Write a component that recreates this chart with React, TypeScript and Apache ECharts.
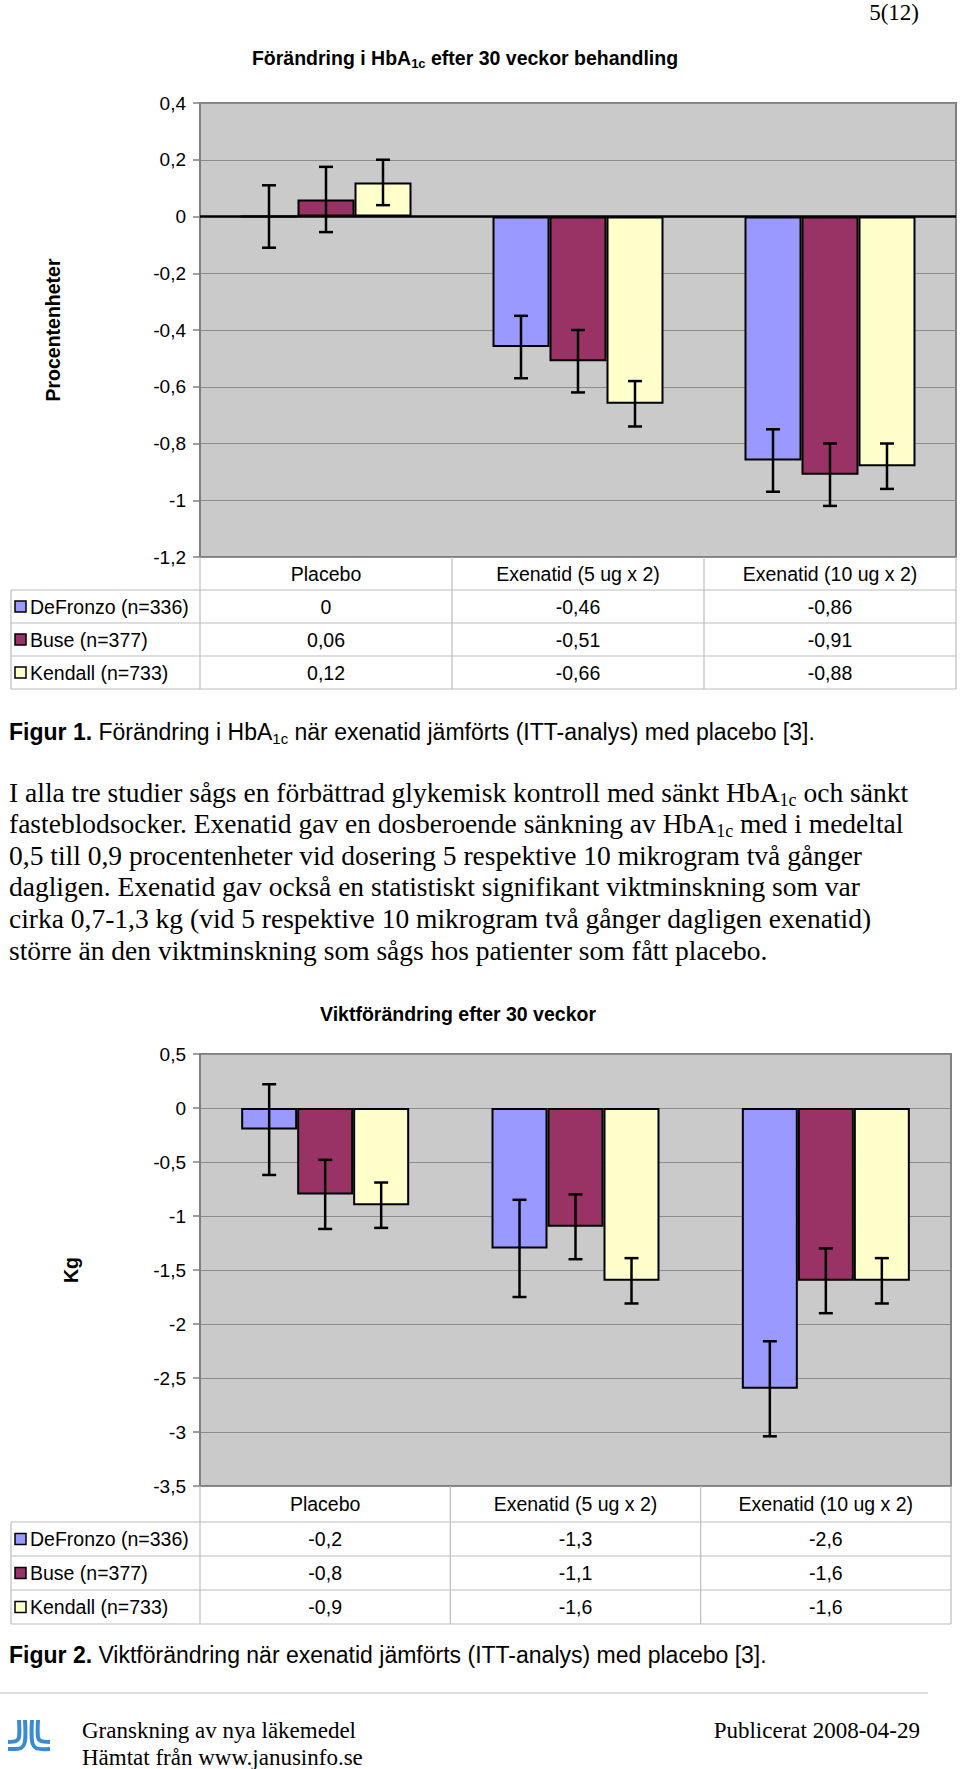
import React, { useEffect, useRef } from 'react';
import * as echarts from 'echarts';

// ---------- data ----------
const categories = ['Placebo', 'Exenatid (5 ug x 2)', 'Exenatid (10 ug x 2)'];
const seriesNames = ['DeFronzo (n=336)', 'Buse (n=377)', 'Kendall (n=733)'];
const seriesColors = ['#9999FF', '#993366', '#FFFFCC'];

const hba1cDeFronzo = [0, -0.46, -0.86];
const hba1cBuse = [0.06, -0.51, -0.91];
const hba1cKendall = [0.12, -0.66, -0.88];
const hba1cErrDeFronzo = [0.11, 0.11, 0.11];
const hba1cErrBuse = [0.115, 0.11, 0.11];
const hba1cErrKendall = [0.08, 0.08, 0.08];

const weightDeFronzo = [-0.2, -1.3, -2.6];
const weightBuse = [-0.8, -1.1, -1.6];
const weightKendall = [-0.9, -1.6, -1.6];
const weightErrDeFronzo = [0.42, 0.45, 0.44];
const weightErrBuse = [0.32, 0.3, 0.3];
const weightErrKendall = [0.21, 0.21, 0.21];

const hba1cAxis = { min: -1.2, max: 0.4, interval: 0.2 };
const weightAxis = { min: -3.5, max: 0.5, interval: 0.5 };

const pageNumber = '5(12)';
const title1 = 'Förändring i HbA{sub|1c} efter 30 veckor behandling';
const title2 = 'Viktförändring efter 30 veckor';
const yName1 = 'Procentenheter';
const yName2 = 'Kg';
const caption1 = '{b|Figur 1.} Förändring i HbA{sub|1c} när exenatid jämförts (ITT-analys) med placebo [3].';
const caption2 = '{b|Figur 2.} Viktförändring när exenatid jämförts (ITT-analys) med placebo [3].';
const paragraphLines = [
  'I alla tre studier sågs en förbättrad glykemisk kontroll med sänkt HbA{sub|1c} och sänkt',
  'fasteblodsocker. Exenatid gav en dosberoende sänkning av HbA{sub|1c} med i medeltal',
  '0,5 till 0,9 procentenheter vid dosering 5 respektive 10 mikrogram två gånger',
  'dagligen. Exenatid gav också en statistiskt signifikant viktminskning som var',
  'cirka 0,7-1,3 kg (vid 5 respektive 10 mikrogram två gånger dagligen exenatid)',
  'större än den viktminskning som sågs hos patienter som fått placebo.',
];
const footerLeft = ['Granskning av nya läkemedel', 'Hämtat från www.janusinfo.se'];
const footerRight = 'Publicerat 2008-04-29';

// ---------- style constants ----------
const SANS = '"Liberation Sans", Arial, Helvetica, sans-serif';
const SERIF = '"Liberation Serif", "Times New Roman", Times, serif';
const W = 960;
const H = 1769;
const TABLE_FONT = 19.5;

const fmt = (v: number) => {
  let r = Math.round(v * 100) / 100;
  if (Object.is(r, -0)) r = 0;
  return String(r).replace('.', ',');
};

function richText(
  x: number, y: number, text: string, size: number, family: string,
  weight: string, subSize: number, align = 'left'
) {
  const lh = Math.round(size * 1.2);
  return {
    type: 'text', x, y, silent: true, z: 50,
    style: {
      text, fontSize: size, fontFamily: family, fontWeight: weight, fill: '#000',
      lineHeight: lh, align, verticalAlign: 'middle',
      rich: {
        b: { fontSize: size, fontFamily: family, fontWeight: 'bold', lineHeight: lh, fill: '#000' },
        sub: { fontSize: subSize, fontFamily: family, fontWeight: weight, lineHeight: subSize, verticalAlign: 'bottom', fill: '#000' },
      },
    },
  };
}

function barSeries(name: string, data: number[], idx: number, axis: number, barWidth: number, extra: any = {}) {
  return {
    type: 'bar', name, data, xAxisIndex: axis, yAxisIndex: axis,
    barWidth, barGap: '0%',
    itemStyle: { color: seriesColors[idx], borderColor: '#000', borderWidth: 2 },
    emphasis: { disabled: true }, silent: true, z: 3,
    ...extra,
  };
}

function errSeries(vals: number[], errs: number[], offset: number, axis: number, barWidth: number) {
  return {
    type: 'custom', xAxisIndex: axis, yAxisIndex: axis, silent: true, z: 10,
    data: vals.map((v, i) => [i, v - errs[i], v + errs[i]]),
    encode: { x: 0, y: [1, 2] },
    renderItem: (_p: any, api: any) => {
      const lo = api.coord([api.value(0), api.value(1)]);
      const hi = api.coord([api.value(0), api.value(2)]);
      const x = lo[0] + offset * barWidth;
      const cap = 7;
      const style = { stroke: '#000', lineWidth: 2.5 };
      return {
        type: 'group',
        children: [
          { type: 'line', shape: { x1: x, y1: hi[1], x2: x, y2: lo[1] }, style },
          { type: 'line', shape: { x1: x - cap, y1: hi[1], x2: x + cap, y2: hi[1] }, style },
          { type: 'line', shape: { x1: x - cap, y1: lo[1], x2: x + cap, y2: lo[1] }, style },
        ],
      };
    },
  };
}

function valueAxis(grid: number, ax: { min: number; max: number; interval: number }, name: string, nameGap: number) {
  return {
    type: 'value', gridIndex: grid, min: ax.min, max: ax.max, interval: ax.interval,
    axisLine: { show: true, lineStyle: { color: '#808080', width: 1.5 } },
    axisTick: { show: true, length: 7, lineStyle: { color: '#808080', width: 1.5 } },
    axisLabel: { fontSize: 19, fontFamily: SANS, color: '#000', margin: 14, formatter: fmt },
    splitLine: { show: true, lineStyle: { color: '#8c8c8c', width: 1.2 } },
    name, nameLocation: 'middle', nameGap, nameRotate: 90,
    nameTextStyle: { fontSize: 19.5, fontWeight: 'bold', fontFamily: SANS, color: '#000' },
  };
}

function catAxis(grid: number, margin: number) {
  return {
    type: 'category', gridIndex: grid, data: categories,
    axisLine: { show: false, onZero: false },
    axisTick: { show: false },
    axisLabel: { fontSize: TABLE_FONT, fontFamily: SANS, color: '#000', margin, interval: 0 },
    splitLine: { show: false },
  };
}

function tableGraphics(
  chart: any, axis: number, plotBottom: number, headerH: number, rowH: number,
  values: number[][]
) {
  const els: any[] = [];
  const cx = categories.map((_, i) => chart.convertToPixel({ xAxisIndex: axis }, i) as number);
  const band = cx[1] - cx[0];
  const bounds = [cx[0] - band / 2, cx[0] + band / 2, cx[1] + band / 2, cx[2] + band / 2];
  const leftX = 11;
  const rightX = bounds[3];
  const top = plotBottom;
  const rowTop = top + headerH;
  const bottom = rowTop + rowH * 3;
  const ls = { stroke: '#bdbdbd', lineWidth: 1.2 };
  for (let r = 0; r <= 3; r++) {
    const y = rowTop + r * rowH;
    els.push({ type: 'line', silent: true, z: 5, shape: { x1: leftX, y1: y, x2: rightX, y2: y }, style: ls });
  }
  els.push({ type: 'line', silent: true, z: 5, shape: { x1: leftX, y1: rowTop, x2: leftX, y2: bottom }, style: ls });
  bounds.forEach((bx) => {
    els.push({ type: 'line', silent: true, z: 5, shape: { x1: bx, y1: top, x2: bx, y2: bottom }, style: ls });
  });
  values.forEach((row, r) => {
    const yc = rowTop + r * rowH + rowH / 2;
    els.push({
      type: 'rect', silent: true, z: 6,
      shape: { x: 15, y: yc - 5.5, width: 11, height: 11 },
      style: { fill: seriesColors[r], stroke: '#000', lineWidth: 1.5 },
    });
    els.push({
      type: 'text', silent: true, z: 6, x: 30, y: yc,
      style: { text: seriesNames[r], fontSize: TABLE_FONT, fontFamily: SANS, fill: '#000', align: 'left', verticalAlign: 'middle' },
    });
    row.forEach((v, c) => {
      els.push({
        type: 'text', silent: true, z: 6, x: cx[c], y: yc,
        style: { text: fmt(v), fontSize: TABLE_FONT, fontFamily: SANS, fill: '#000', align: 'center', verticalAlign: 'middle' },
      });
    });
  });
  return els;
}

export default function App() {
  const ref = useRef<HTMLDivElement>(null);

  useEffect(() => {
    if (!ref.current) return;
    const chart = echarts.init(ref.current, undefined, { renderer: 'svg', width: W, height: H });

    const g1 = { left: 200, top: 103, width: 756, height: 454 };
    const g2 = { left: 200, top: 1054, width: 751, height: 432 };
    const bw1 = 57;
    const bw2 = 56;

    chart.setOption({
      animation: false,
      backgroundColor: '#ffffff',
      grid: [
        { ...g1, show: true, backgroundColor: '#CACACA', borderColor: '#808080', borderWidth: 2, containLabel: false },
        { ...g2, show: true, backgroundColor: '#CACACA', borderColor: '#808080', borderWidth: 2, containLabel: false },
      ],
      xAxis: [catAxis(0, 7), catAxis(1, 8)],
      yAxis: [valueAxis(0, hba1cAxis, yName1, 137), valueAxis(1, weightAxis, yName2, 119)],
      series: [
        barSeries(seriesNames[0], hba1cDeFronzo, 0, 0, bw1, {
          markLine: {
            silent: true, symbol: ['none', 'none'], label: { show: false },
            lineStyle: { color: '#000', width: 2.5, type: 'solid' },
            data: [{ yAxis: 0 }],
          },
        }),
        barSeries(seriesNames[1], hba1cBuse, 1, 0, bw1),
        barSeries(seriesNames[2], hba1cKendall, 2, 0, bw1),
        errSeries(hba1cDeFronzo, hba1cErrDeFronzo, -1, 0, bw1),
        errSeries(hba1cBuse, hba1cErrBuse, 0, 0, bw1),
        errSeries(hba1cKendall, hba1cErrKendall, 1, 0, bw1),
        barSeries(seriesNames[0], weightDeFronzo, 0, 1, bw2),
        barSeries(seriesNames[1], weightBuse, 1, 1, bw2),
        barSeries(seriesNames[2], weightKendall, 2, 1, bw2),
        errSeries(weightDeFronzo, weightErrDeFronzo, -1, 1, bw2),
        errSeries(weightBuse, weightErrBuse, 0, 1, bw2),
        errSeries(weightKendall, weightErrKendall, 1, 1, bw2),
      ],
    });

    const graphics: any[] = [];
    graphics.push({
      type: 'text', silent: true, x: 919, y: 12,
      style: { text: pageNumber, fontSize: 23, fontFamily: SERIF, fill: '#000', align: 'right', verticalAlign: 'middle' },
    });
    graphics.push(richText(465, 58, title1, 19.5, SANS, 'bold', 13, 'center'));
    graphics.push(richText(458, 1014, title2, 19.5, SANS, 'bold', 13, 'center'));
    graphics.push(...tableGraphics(chart, 0, g1.top + g1.height, 33, 33, [hba1cDeFronzo, hba1cBuse, hba1cKendall]));
    graphics.push(...tableGraphics(chart, 1, g2.top + g2.height, 36, 34, [weightDeFronzo, weightBuse, weightKendall]));
    graphics.push(richText(9, 732, caption1, 23, SANS, 'normal', 15));
    graphics.push(richText(9, 1655, caption2, 23, SANS, 'normal', 15));
    paragraphLines.forEach((line, i) => {
      graphics.push(richText(9, 792 + i * 31.6, line, 27.5, SERIF, 'normal', 18));
    });
    graphics.push({
      type: 'line', silent: true, shape: { x1: 0, y1: 1693, x2: 928, y2: 1693 },
      style: { stroke: '#d2d2d2', lineWidth: 1.5 },
    });
    const logoStyle = { stroke: '#3b8bd4', lineWidth: 4, fill: 'none' };
    const logoStrokes = [
      [[19, 1720], [19, 1737], [16, 1741], [8, 1742]],
      [[25, 1720], [25, 1741], [21, 1748], [8, 1749]],
      [[32, 1720], [32, 1741], [36, 1748], [50, 1749]],
      [[38, 1720], [38, 1737], [41, 1741], [50, 1742]],
    ];
    logoStrokes.forEach((pts) => {
      graphics.push({ type: 'polyline', silent: true, shape: { points: pts, smooth: 0.3 }, style: logoStyle });
    });
    footerLeft.forEach((t, i) => {
      graphics.push({
        type: 'text', silent: true, x: 82, y: 1730 + i * 27,
        style: { text: t, fontSize: 23, fontFamily: SERIF, fill: '#000', align: 'left', verticalAlign: 'middle' },
      });
    });
    graphics.push({
      type: 'text', silent: true, x: 920, y: 1730,
      style: { text: footerRight, fontSize: 23, fontFamily: SERIF, fill: '#000', align: 'right', verticalAlign: 'middle' },
    });

    chart.setOption({ graphic: graphics });

    return () => {
      chart.dispose();
    };
  }, []);

  return (
    <div
      ref={ref}
      style={{ position: 'absolute', left: 0, top: 0, width: W, height: H, background: '#fff' }}
    />
  );
}
